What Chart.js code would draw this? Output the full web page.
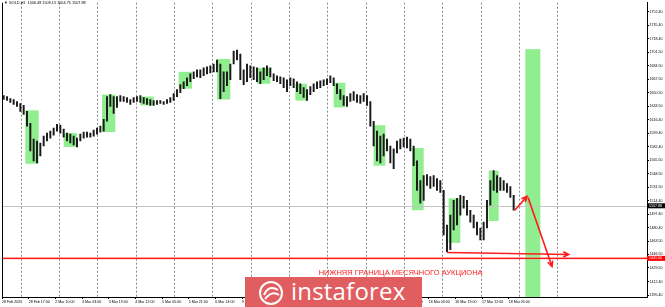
<!DOCTYPE html>
<html>
<head>
<meta charset="utf-8">
<script src="https://cdn.jsdelivr.net/npm/chart.js@4/dist/chart.umd.min.js"></script>
<style>
    html, body { margin: 0; padding: 0; background: #fff; }
    #wrap { position: relative; width: 665px; height: 307px; }
    #logo {
        position: absolute; left: 245px; top: 277px; width: 177px; height: 30px;
        background: #e15e60; color: #fff; font-family: "Open Sans", sans-serif;
        font-size: 24px; line-height: 28px; overflow: hidden;
    }
    #logo svg { position: absolute; left: 12px; top: 2px; }
    #logo span { position: absolute; left: 46px; top: 0; letter-spacing: 0.2px; }
</style>
</head>
<body>
<div id="wrap">
    <canvas id="priceChart" width="665" height="307"></canvas>
    <div id="logo">
        <svg width="28" height="28" viewBox="0 0 28 28">
            <circle cx="14" cy="14" r="11" fill="none" stroke="#fff" stroke-width="2"/>
            <path d="M7 16 Q12 5 21 11" fill="none" stroke="#fff" stroke-width="2"/>
            <path d="M8 20 Q15 11 22 16" fill="none" stroke="#fff" stroke-width="2"/>
        </svg>
        <span>instaforex</span>
    </div>
</div>
<script>
// GOLD H1, 28 Feb - 18 Mar 2020, one entry per two hourly bars
const highs = [
    1646.9, 1645.6, 1643.1, 1641.9, 1639.4, 1636.9, 1634.4, 1627.0, 1612.0, 1592.1, 1589.6, 1587.1,
    1595.8, 1599.5, 1602.0, 1605.8, 1610.7, 1609.5, 1604.5, 1599.5, 1598.3, 1595.8, 1593.3,
    1598.3, 1600.8, 1600.8, 1599.5, 1603.3, 1605.8, 1608.3, 1617.0, 1645.6, 1648.1, 1645.6, 1645.6,
    1646.9, 1645.6, 1644.4, 1641.9, 1644.4, 1645.6, 1646.9, 1644.4, 1643.1, 1641.9, 1640.6,
    1640.6, 1640.6, 1639.4, 1641.9, 1644.4, 1649.4, 1654.4, 1660.6, 1664.3, 1669.3, 1674.3, 1676.8,
    1679.3, 1679.3, 1681.8, 1683.0, 1684.3, 1686.7, 1691.7, 1686.7, 1676.8, 1676.8, 1686.7,
    1702.9, 1704.2, 1699.2, 1679.3, 1686.7, 1684.3, 1683.0, 1681.8, 1676.8, 1681.8, 1684.3, 1681.8,
    1674.3, 1671.8, 1670.5, 1669.3, 1666.8, 1669.3, 1668.1, 1664.3, 1661.8, 1656.8, 1654.4,
    1658.1, 1661.8, 1664.3, 1665.6, 1666.8, 1668.1, 1671.8, 1669.3, 1661.8, 1654.4, 1646.9, 1645.6,
    1649.4, 1651.9, 1648.1, 1646.9, 1649.4, 1646.9, 1639.4, 1614.5, 1602.0, 1595.8, 1598.3,
    1592.1, 1583.3, 1579.6, 1589.6, 1592.1, 1593.3, 1594.5, 1592.1, 1583.3, 1564.6, 1539.7, 1545.9,
    1547.2, 1544.7, 1545.9, 1542.2, 1539.7, 1527.3, 1483.7, 1496.1, 1514.8, 1517.3, 1521.0,
    1519.8, 1514.8, 1502.3, 1496.1, 1487.4, 1479.9, 1487.4, 1514.8, 1539.7, 1552.2, 1545.9, 1543.5,
    1539.7, 1536.0, 1532.2, 1521.0
];
const lows = [
    1641.9, 1640.6, 1638.2, 1635.7, 1633.2, 1627.0, 1623.2, 1608.3, 1577.1, 1564.6, 1562.1, 1570.9,
    1583.3, 1589.6, 1593.3, 1597.0, 1602.0, 1599.5, 1594.5, 1589.6, 1587.1, 1584.6, 1582.1,
    1589.6, 1593.3, 1594.5, 1594.5, 1595.8, 1598.3, 1600.8, 1602.0, 1614.5, 1633.2, 1624.4, 1631.9,
    1639.4, 1639.4, 1638.2, 1635.7, 1638.2, 1639.4, 1638.2, 1636.9, 1635.7, 1634.4, 1634.4,
    1635.7, 1636.9, 1635.7, 1636.9, 1638.2, 1640.6, 1645.6, 1650.6, 1655.6, 1659.3, 1664.3, 1668.1,
    1670.5, 1669.3, 1671.8, 1674.3, 1675.5, 1676.8, 1676.8, 1643.1, 1651.9, 1659.3, 1666.8,
    1686.7, 1691.7, 1666.8, 1660.6, 1664.3, 1669.3, 1666.8, 1664.3, 1661.8, 1666.8, 1671.8, 1670.5,
    1665.6, 1664.3, 1661.8, 1656.8, 1651.9, 1659.3, 1656.8, 1651.9, 1649.4, 1644.4, 1640.6,
    1648.1, 1651.9, 1655.6, 1656.8, 1659.3, 1660.6, 1663.1, 1659.3, 1649.4, 1641.9, 1634.4, 1633.2,
    1639.4, 1640.6, 1638.2, 1636.9, 1639.4, 1634.4, 1608.3, 1583.3, 1564.6, 1562.1, 1570.9,
    1577.1, 1562.1, 1554.7, 1574.6, 1579.6, 1582.1, 1580.8, 1577.1, 1558.4, 1527.3, 1511.1, 1514.8,
    1533.5, 1529.8, 1532.2, 1527.3, 1524.8, 1471.2, 1450.0, 1452.5, 1477.4, 1483.7, 1496.1,
    1504.8, 1496.1, 1487.4, 1479.9, 1471.2, 1465.0, 1465.0, 1479.9, 1508.6, 1527.3, 1524.8, 1527.3,
    1527.3, 1524.8, 1518.5, 1502.3
];

// time axis (hour bar index from 28 Feb 01:00)
const timeTicks = [0, 16, 32, 48, 64, 80, 96, 112, 128, 144, 160, 176, 192, 208, 224, 240, 256, 272, 288, 304];
const timeLabels = ["28 Feb 2020", "28 Feb 17:00", "2 Mar 10:00", "3 Mar 03:00", "3 Mar 19:00", "4 Mar 12:00",
    "5 Mar 05:00", "5 Mar 21:00", "6 Mar 14:00", "9 Mar 07:00", "9 Mar 23:00", "10 Mar 16:00", "11 Mar 09:00",
    "12 Mar 02:00", "12 Mar 18:00", "13 Mar 11:00", "16 Mar 03:00", "16 Mar 19:00", "17 Mar 12:00", "18 Mar 05:00"];
const daySeparators = [23, 46, 69, 92, 115, 138, 161, 184, 207, 230, 253, 276, 299, 322];
const priceTicks = [1752.40, 1735.40, 1718.40, 1701.50, 1684.50, 1667.50, 1650.50, 1633.50, 1616.40, 1599.40, 1582.40,
    1565.50, 1548.50, 1531.50, 1514.40, 1497.40, 1480.40, 1463.50, 1446.50, 1429.50, 1412.40, 1395.40];

// green session boxes
const boxFrom = [14, 37, 60, 83, 106, 129, 153, 176, 199, 223, 246, 268, 292, 314];
const boxTo = [22, 45, 68, 91, 114, 137, 161, 183, 206, 230, 253, 275, 298, 323];
const boxTop = [1628.2, 1599.5, 1648.1, 1645.6, 1676.8, 1693.0, 1681.8, 1661.8, 1663.1, 1609.5, 1580.8, 1517.3, 1552.2, 1705.4];
const boxBottom = [1560.9, 1582.1, 1600.8, 1634.4, 1655.6, 1641.9, 1661.8, 1640.6, 1631.9, 1558.4, 1502.3, 1461.2, 1488.6, 1380];

// red arrows
const arrowX0 = [307.7, 315.6, 267];
const arrowY0 = [1502.3, 1518.5, 1449.0];
const arrowX1 = [315, 330, 340];
const arrowY1 = [1519.8, 1431.3, 1446.5];

const monthLow = 1441.6;
const lastPrice = 1507.88;
const levelText = "НИЖНЯЯ ГРАНИЦА МЕСЯЧНОГО АУКЦИОНА";
const headerText = "▼ GOLD,H1  1506.48 1509.15 1504.75 1507.88";

const tinyFont = { family: "Liberation Sans", size: 3.6 };

const overlay = {
    id: "overlay",
    beforeDatasetsDraw(chart) {
        const { ctx, chartArea: a, scales: { x, y } } = chart;
        ctx.save();
        ctx.beginPath();
        ctx.rect(a.left, a.top, a.right - a.left, a.bottom - a.top);
        ctx.clip();
        ctx.fillStyle = "rgb(144,238,144)";
        boxFrom.forEach((f, i) => {
            const x0 = x.getPixelForValue(f), x1 = x.getPixelForValue(boxTo[i]);
            const y0 = y.getPixelForValue(boxTop[i]), y1 = y.getPixelForValue(boxBottom[i]);
            ctx.fillRect(x0, y0, x1 - x0, y1 - y0);
        });
        const py = Math.round(y.getPixelForValue(lastPrice)) + 0.5;
        ctx.strokeStyle = "#c4c4c4";
        ctx.lineWidth = 1;
        ctx.beginPath();
        ctx.moveTo(a.left, py);
        ctx.lineTo(a.right, py);
        ctx.stroke();
        ctx.restore();
    },
    afterDatasetsDraw(chart) {
        const { ctx, chartArea: a, scales: { x, y } } = chart;
        ctx.save();

        // monthly low level
        const ly = y.getPixelForValue(monthLow);
        ctx.strokeStyle = "rgba(255,120,120,0.5)";
        ctx.lineWidth = 2.5;
        ctx.beginPath(); ctx.moveTo(a.left, ly); ctx.lineTo(a.right, ly); ctx.stroke();
        ctx.strokeStyle = "#ff0000";
        ctx.lineWidth = 1;
        ctx.beginPath(); ctx.moveTo(a.left, ly); ctx.lineTo(a.right, ly); ctx.stroke();

        // arrows
        ctx.strokeStyle = "#ff1c1c";
        ctx.lineWidth = 1.6;
        arrowX0.forEach((v, i) => {
            const x0 = x.getPixelForValue(v), y0 = y.getPixelForValue(arrowY0[i]);
            const x1 = x.getPixelForValue(arrowX1[i]), y1 = y.getPixelForValue(arrowY1[i]);
            const ang = Math.atan2(y1 - y0, x1 - x0);
            ctx.beginPath();
            ctx.moveTo(x0, y0); ctx.lineTo(x1, y1);
            ctx.moveTo(x1 - 6 * Math.cos(ang - 0.45), y1 - 6 * Math.sin(ang - 0.45));
            ctx.lineTo(x1, y1);
            ctx.lineTo(x1 - 6 * Math.cos(ang + 0.45), y1 - 6 * Math.sin(ang + 0.45));
            ctx.stroke();
        });

        // level caption
        ctx.fillStyle = "#ff2020";
        ctx.font = "7.5px 'Liberation Sans'";
        ctx.textBaseline = "alphabetic";
        ctx.fillText(levelText, x.getPixelForValue(190), ly + 17);

        // chart frame, left side
        ctx.strokeStyle = "#000";
        ctx.lineWidth = 1;
        ctx.beginPath(); ctx.moveTo(a.left + 0.5, a.top); ctx.lineTo(a.left + 0.5, a.bottom); ctx.stroke();

        // header
        ctx.fillStyle = "#000";
        ctx.font = "3.8px 'Liberation Sans'";
        ctx.textBaseline = "middle";
        ctx.fillText(headerText, a.left + 2, 2.5);

        // price boxes on the axis
        const boxes = [[lastPrice, "#000"], [monthLow, "#ff0000"]];
        ctx.font = "3.6px 'Liberation Sans'";
        boxes.forEach(([p, c]) => {
            const by = y.getPixelForValue(p);
            ctx.fillStyle = c;
            ctx.fillRect(a.right, by - 2.5, 18, 5);
            ctx.fillStyle = "#fff";
            ctx.fillText(p.toFixed(2), a.right + 2, by);
        });
        ctx.restore();
    }
};

new Chart(document.getElementById("priceChart").getContext("2d"), {
    type: "bar",
    data: {
        datasets: [{
            data: highs.map((h, k) => ({ x: 2 * k + 1, y: [lows[k], h] })),
            backgroundColor: "#1a1a1a",
            borderWidth: 0,
            barThickness: 1.3,
            xAxisID: "x",
            yAxisID: "y"
        }]
    },
    options: {
        responsive: false,
        animation: false,
        devicePixelRatio: 1,
        layout: { padding: { left: 2, top: 0, right: 0, bottom: 0 } },
        plugins: { legend: { display: false }, tooltip: { enabled: false } },
        scales: {
            x: {
                type: "linear",
                position: "bottom",
                min: 0,
                max: 387,
                offset: false,
                afterBuildTicks: s => { s.ticks = timeTicks.map(v => ({ value: v })); },
                afterFit: s => { s.height = 10; },
                ticks: {
                    autoSkip: false,
                    maxRotation: 0,
                    align: "start",
                    padding: 0.5,
                    color: "#000",
                    font: tinyFont,
                    callback: (v, i) => timeLabels[i]
                },
                grid: { drawOnChartArea: false, offset: false, tickLength: 2, color: "#000" },
                border: { color: "#000" }
            },
            days: {
                type: "linear",
                position: "bottom",
                min: 0,
                max: 387,
                offset: false,
                afterBuildTicks: s => { s.ticks = daySeparators.map(v => ({ value: v })); },
                afterFit: s => { s.height = 0; },
                ticks: { display: false },
                grid: { drawTicks: false, color: "#8a8a8a", lineWidth: 1 },
                border: { display: false, dash: [2, 2] }
            },
            y: {
                position: "right",
                min: 1392.9,
                max: 1764.0,
                afterBuildTicks: s => { s.ticks = priceTicks.map(v => ({ value: v })); },
                afterFit: s => { s.width = 18; },
                ticks: {
                    padding: 0.5,
                    color: "#000",
                    font: tinyFont,
                    callback: v => v.toFixed(2)
                },
                grid: { drawOnChartArea: false, tickLength: 2, color: "#000" },
                border: { color: "#000" }
            }
        }
    },
    plugins: [overlay]
});
</script>
</body>
</html>
